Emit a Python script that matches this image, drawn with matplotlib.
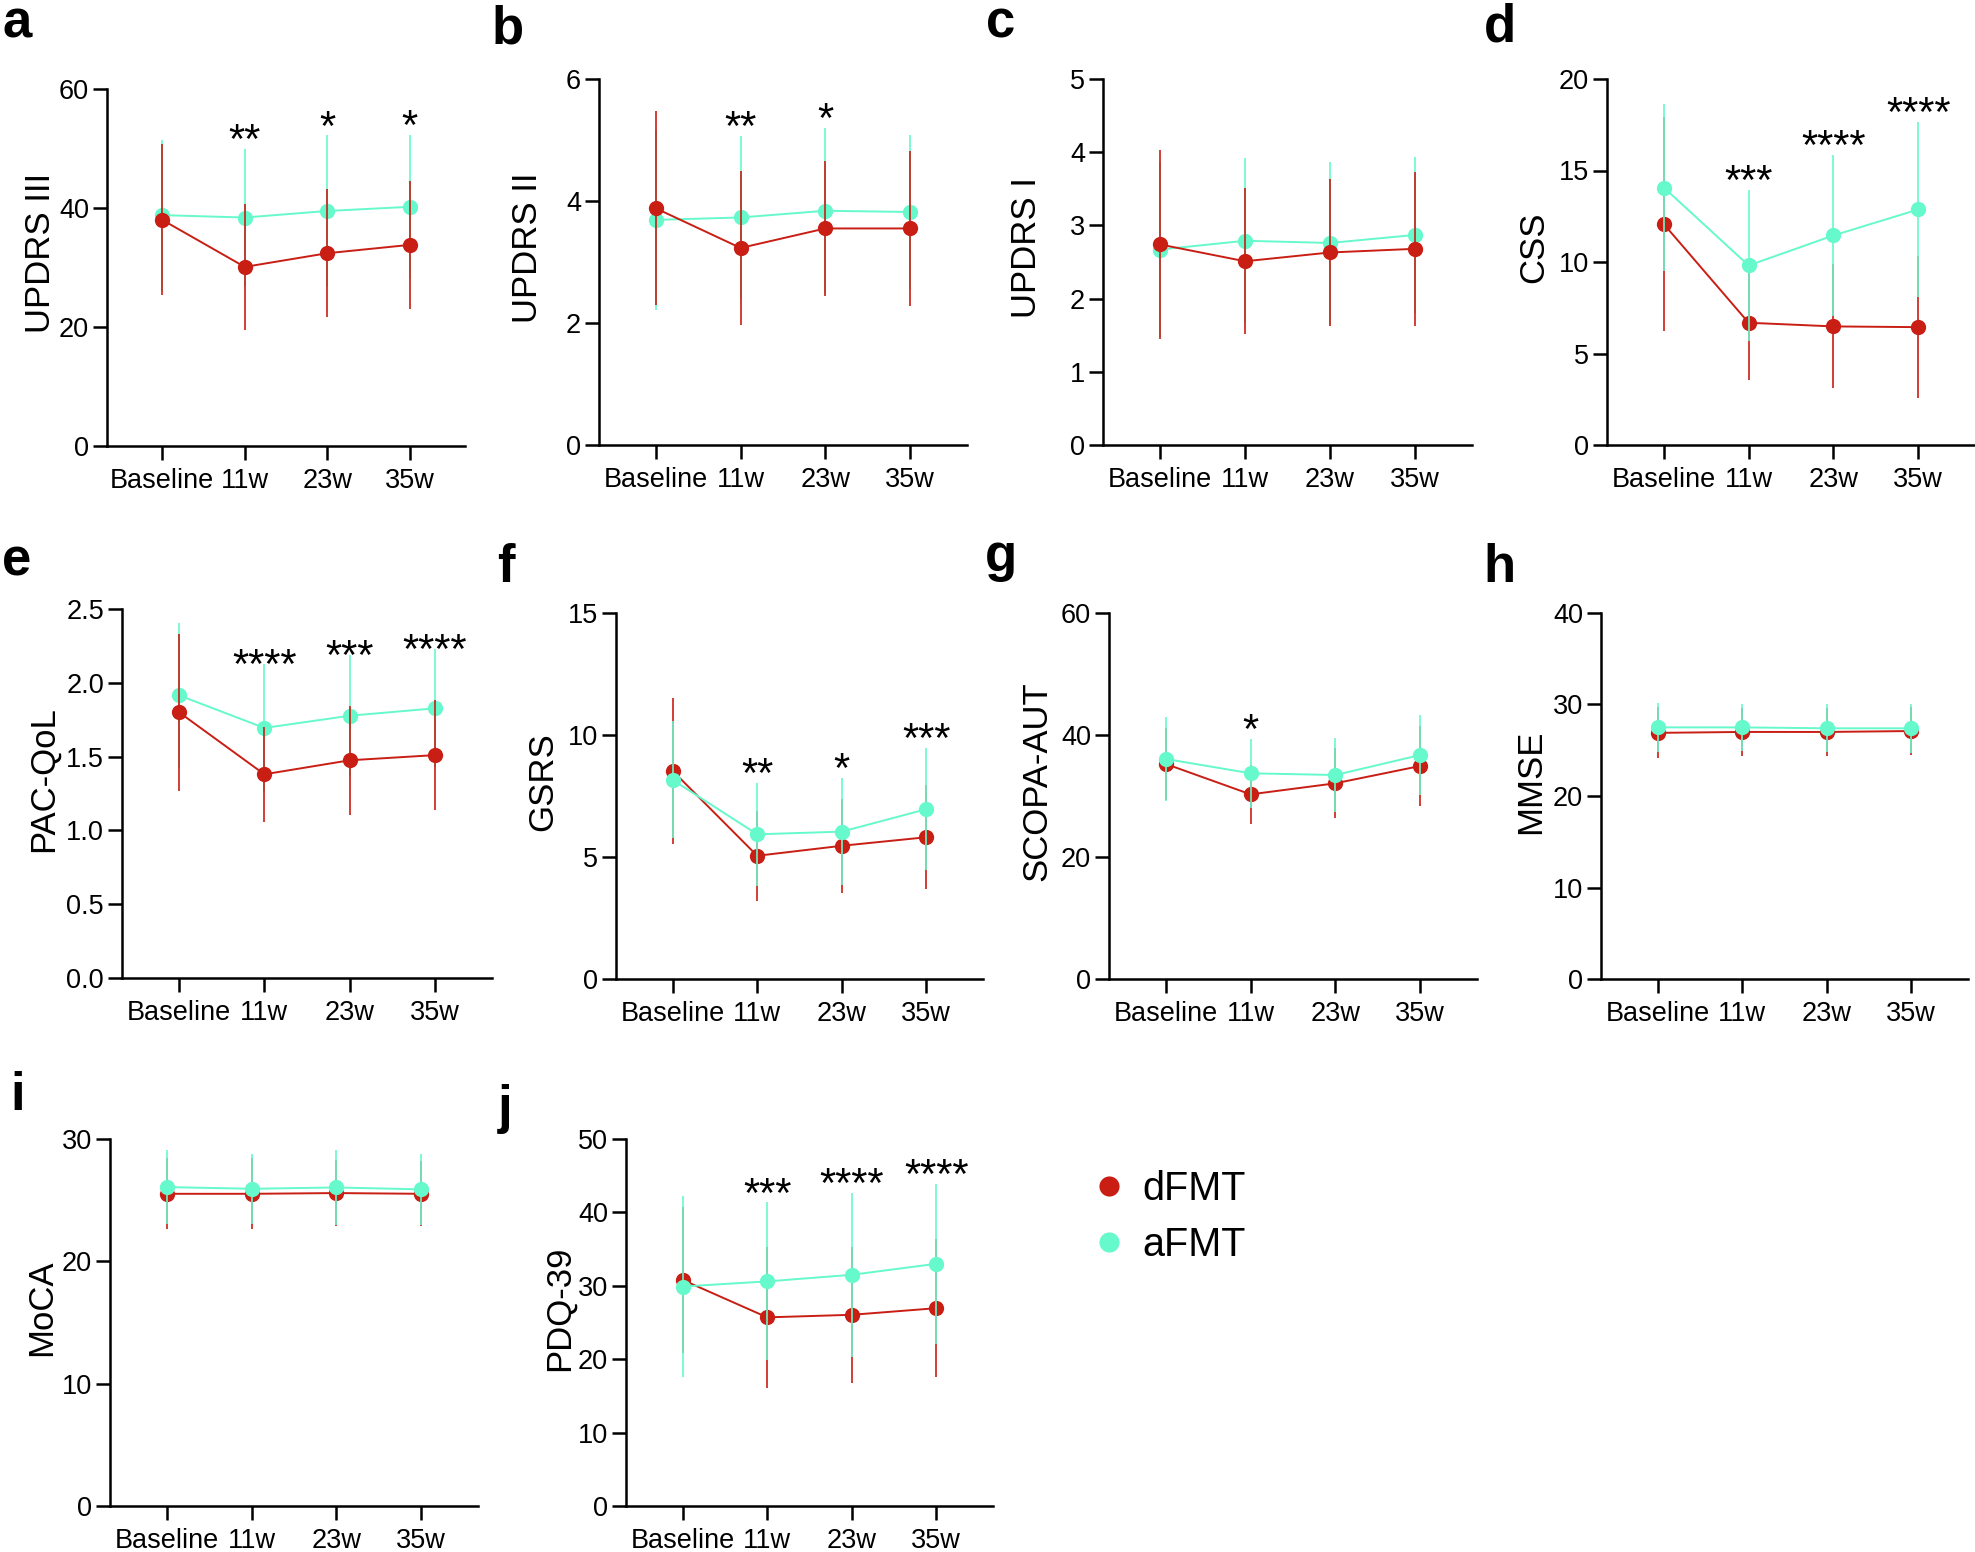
import numpy as np
import matplotlib
matplotlib.use('Agg')
import matplotlib.pyplot as plt
from matplotlib.lines import Line2D
from matplotlib.ticker import FormatStrFormatter

plt.rcParams['font.family'] = ['Liberation Sans', 'DejaVu Sans']

W, H = 1975, 1552
timepoints = ['Baseline', '11w', '23w', '35w']
red = '#C81E14'
cyan = '#66F9CB'

# mean and SD, dFMT (d) and aFMT (a)
updrs3_d = [38.0, 30.1, 32.4, 33.8]
updrs3_d_sd = [12.7, 10.6, 10.8, 10.7]
updrs3_a = [38.8, 38.4, 39.5, 40.2]
updrs3_a_sd = [12.7, 11.5, 12.7, 12.1]
updrs3_stars = ['', '**', '*', '*']

updrs2_d = [3.88, 3.23, 3.55, 3.55]
updrs2_d_sd = [1.59, 1.27, 1.10, 1.27]
updrs2_a = [3.69, 3.73, 3.84, 3.82]
updrs2_a_sd = [1.47, 1.34, 1.36, 1.27]
updrs2_stars = ['', '**', '*', '']

updrs1_d = [2.74, 2.51, 2.63, 2.68]
updrs1_d_sd = [1.29, 1.00, 1.00, 1.05]
updrs1_a = [2.67, 2.79, 2.76, 2.87]
updrs1_a_sd = [1.20, 1.13, 1.11, 1.06]
updrs1_stars = ['', '', '', '']

css_d = [12.07, 6.68, 6.48, 6.44]
css_d_sd = [5.85, 3.13, 3.39, 3.89]
css_a = [14.07, 9.81, 11.45, 12.87]
css_a_sd = [4.58, 4.15, 4.38, 4.78]
css_stars = ['', '***', '****', '****']

pac_d = [1.80, 1.38, 1.475, 1.51]
pac_d_sd = [0.53, 0.32, 0.37, 0.375]
pac_a = [1.915, 1.694, 1.777, 1.827]
pac_a_sd = [0.49, 0.433, 0.41, 0.40]
pac_stars = ['', '****', '***', '****']

gsrs_d = [8.53, 5.05, 5.46, 5.81]
gsrs_d_sd = [2.99, 1.84, 1.92, 2.13]
gsrs_a = [8.16, 5.93, 6.04, 6.96]
gsrs_a_sd = [2.40, 2.12, 2.19, 2.50]
gsrs_stars = ['', '**', '*', '***']

scopa_d = [35.25, 30.27, 32.08, 34.92]
scopa_d_sd = [5.85, 4.87, 5.74, 6.50]
scopa_a = [36.07, 33.72, 33.44, 36.72]
scopa_a_sd = [6.93, 5.62, 6.00, 6.56]
scopa_stars = ['', '*', '', '']

mmse_d = [26.9, 27.0, 27.0, 27.1]
mmse_d_sd = [2.8, 2.6, 2.6, 2.6]
mmse_a = [27.5, 27.5, 27.4, 27.4]
mmse_a_sd = [2.7, 2.6, 2.6, 2.7]
mmse_stars = ['', '', '', '']

moca_d = [25.52, 25.52, 25.58, 25.52]
moca_d_sd = [2.89, 2.89, 2.68, 2.67]
moca_a = [26.07, 25.93, 26.04, 25.88]
moca_a_sd = [3.05, 2.87, 3.08, 2.89]
moca_stars = ['', '', '', '']

pdq_d = [30.8, 25.7, 26.05, 26.95]
pdq_d_sd = [10.0, 9.6, 9.25, 9.4]
pdq_a = [29.9, 30.6, 31.5, 33.0]
pdq_a_sd = [12.37, 10.76, 11.2, 10.9]
pdq_stars = ['', '***', '****', '****']

ylabels = ['UPDRS III', 'UPDRS II', 'UPDRS I', 'CSS', 'PAC-QoL', 'GSRS',
           'SCOPA-AUT', 'MMSE', 'MoCA', 'PDQ-39']
yticks = [[0, 20, 40, 60], [0, 2, 4, 6], [0, 1, 2, 3, 4, 5], [0, 5, 10, 15, 20],
          [0, 0.5, 1.0, 1.5, 2.0, 2.5], [0, 5, 10, 15], [0, 20, 40, 60],
          [0, 10, 20, 30, 40], [0, 10, 20, 30], [0, 10, 20, 30, 40, 50]]
letters = list('abcdefghij')

panels = [
    (updrs3_d, updrs3_d_sd, updrs3_a, updrs3_a_sd, updrs3_stars),
    (updrs2_d, updrs2_d_sd, updrs2_a, updrs2_a_sd, updrs2_stars),
    (updrs1_d, updrs1_d_sd, updrs1_a, updrs1_a_sd, updrs1_stars),
    (css_d, css_d_sd, css_a, css_a_sd, css_stars),
    (pac_d, pac_d_sd, pac_a, pac_a_sd, pac_stars),
    (gsrs_d, gsrs_d_sd, gsrs_a, gsrs_a_sd, gsrs_stars),
    (scopa_d, scopa_d_sd, scopa_a, scopa_a_sd, scopa_stars),
    (mmse_d, mmse_d_sd, mmse_a, mmse_a_sd, mmse_stars),
    (moca_d, moca_d_sd, moca_a, moca_a_sd, moca_stars),
    (pdq_d, pdq_d_sd, pdq_a, pdq_a_sd, pdq_stars),
]

# layout in pixels: left, top, right, bottom of each axes
axes_px = [(107, 89, 465, 446), (599, 79, 967, 445), (1103, 79, 1472, 445),
           (1607, 79, 1975, 445), (122, 609, 492, 978), (616, 613, 983, 979),
           (1109, 613, 1477, 979), (1601, 613, 1968, 979),
           (110, 1139, 478, 1506), (626, 1139, 993, 1506)]
letter_px = [(2, 37), (492, 43), (986, 38), (1484, 42), (2, 576), (497, 582),
             (985, 571), (1483, 582), (10, 1110), (498, 1123)]
ylabel_gap = [50, 55, 60, 57, 62, 57, 56, 54, 52, 50]
red_on_top = [True, True, True, False, True, False, False, False, False, False]
star_pad = [-3, -3, -3, -3, -10, -3, -3, -3, -3, -3]

fig = plt.figure(figsize=(W / 100, H / 100), dpi=100)
x = np.arange(len(timepoints))

for k, (dm, dsd, am, asd, stars) in enumerate(panels):
    l, t, r, b = axes_px[k]
    ax = fig.add_axes([l / W, 1 - b / H, (r - l) / W, (b - t) / H])
    zd, za = (3, 2) if red_on_top[k] else (2, 3)
    ax.errorbar(x, dm, yerr=dsd, color=red, ecolor=red, elinewidth=1.2, capsize=0,
                marker='o', markersize=11, markeredgewidth=0, lw=1.4, zorder=zd,
                clip_on=False)
    ax.errorbar(x, am, yerr=asd, color=cyan, ecolor=cyan, elinewidth=1.2, capsize=0,
                marker='o', markersize=11, markeredgewidth=0, lw=1.4, zorder=za,
                clip_on=False)
    for i, s in enumerate(stars):
        if s:
            top = max(dm[i] + dsd[i], am[i] + asd[i])
            ax.annotate(s, (i, top), xytext=(0, star_pad[k]), textcoords='offset points',
                        ha='center', va='baseline', fontsize=30)
    ax.set_xlim(-0.67, 3.67)
    ax.set_ylim(yticks[k][0], yticks[k][-1])
    ax.set_yticks(yticks[k])
    if k == 4:
        ax.yaxis.set_major_formatter(FormatStrFormatter('%.1f'))
    else:
        ax.yaxis.set_major_formatter(FormatStrFormatter('%g'))
    ax.set_xticks(x)
    ax.set_xticklabels(timepoints)
    ax.set_ylabel(ylabels[k], fontsize=25)
    ax.yaxis.set_label_coords(-ylabel_gap[k] / (r - l), 0.54)
    for sp in ['top', 'right']:
        ax.spines[sp].set_visible(False)
    for sp in ['left', 'bottom']:
        ax.spines[sp].set_linewidth(1.8)
    ax.tick_params(width=1.8, length=10, labelsize=19.5)
    ax.tick_params(axis='y', pad=3)
    ax.tick_params(axis='x', pad=6)

    lx, ly = letter_px[k]
    fig.text(lx / W, 1 - ly / H, letters[k], fontsize=38, fontweight='bold',
             ha='left', va='baseline')

handles = [Line2D([], [], color=red, marker='o', linestyle='none', markersize=14.5,
                  markeredgewidth=0),
           Line2D([], [], color=cyan, marker='o', linestyle='none', markersize=14.5,
                  markeredgewidth=0)]
fig.legend(handles, ['dFMT', 'aFMT'], loc='center left',
           bbox_to_anchor=(1069 / W, 1 - 1217 / H), frameon=False, fontsize=28.5,
           handlelength=1.0, handletextpad=0.36, labelspacing=0.45, borderpad=0)

fig.savefig('out.png', dpi=100)
